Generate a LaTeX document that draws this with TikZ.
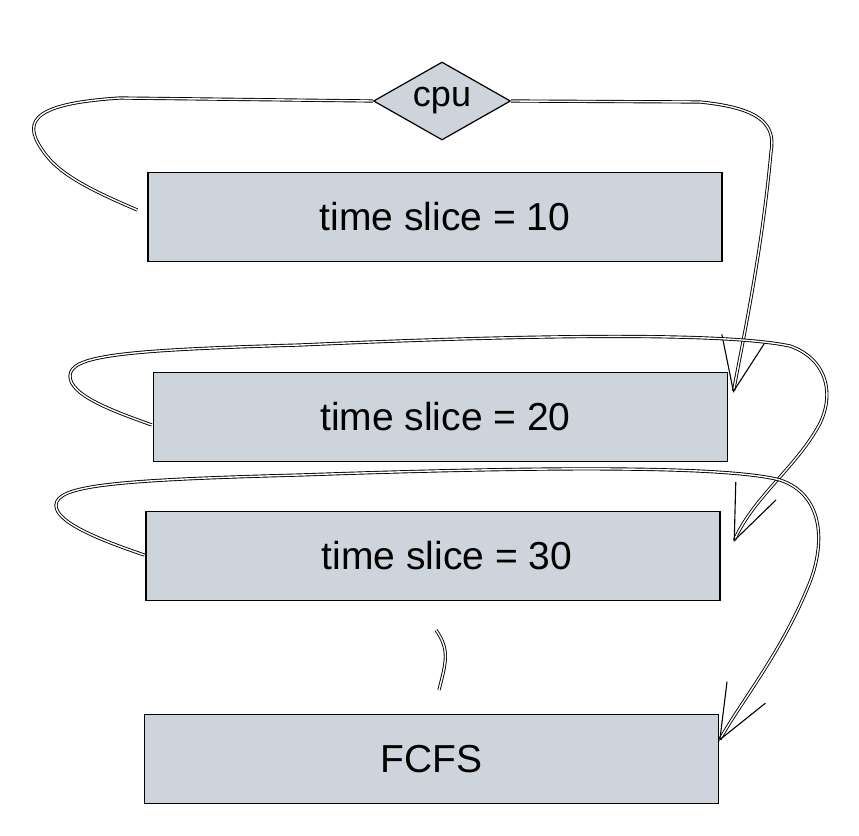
\documentclass[tikz,border=0pt]{standalone}
\usepackage{fontspec}
\setmainfont{Liberation Sans}
\usetikzlibrary{shapes.geometric,arrows.meta,calc}
\definecolor{boxfill}{RGB}{206,212,220}
\tikzset{
  box/.style={draw=black, line width=1.3pt, fill=boxfill, minimum width=574pt, minimum height=89pt, inner sep=0pt, font=\fontsize{39}{44}\selectfont},
  dia/.style={diamond, draw=black, line width=1.2pt, fill=boxfill, minimum width=137pt, minimum height=78pt, inner sep=0pt, aspect=1.75, font=\fontsize{36}{40}\selectfont},
  sketch/.style={draw=black, double=white, line width=0.9pt, double distance=1.4pt},
  tip/.style={-{Straight Barb[length=54pt, width=44pt, line width=1.1pt]}}
}
\begin{document}
\begin{tikzpicture}[x=1pt, y=-1pt]
\useasboundingbox (0,0) rectangle (859,835);
\node[dia] (cpu) at (442,101) {cpu};
\node[box] (b1) at (435,217) {\hspace*{20pt}time slice = 10};
\node[box] (b2) at (440.5,417) {\hspace*{10pt}time slice = 20};
\node[box] (b3) at (433,556) {\hspace*{28pt}time slice = 30};
\node[box] (b4) at (431.5,759) {FCFS};
% loop from box 1 through cpu to box 2
\draw[sketch] ($(b1.west)+(-10,-7)$) .. controls (95,192) and (62,176) .. (46,155)
   .. controls (22,124) and (26,104) .. (120,98) -- (cpu.west);
\draw[sketch, tip] (cpu.east) -- (700,102) .. controls (760,108) and (776,124) .. (771,152)
   .. controls (762,250) and (745,330) .. ($(b2.north east)+(5,21)$);
% loop from box 2 to box 3
\draw[sketch, tip] ($(b2.west)+(-1,8)$) .. controls (110,410) and (70,395) .. (70,376)
   .. controls (70,356) and (120,350) .. (300,345)
   .. controls (500,336) and (720,331) .. (790,346)
   .. controls (830,360) and (836,400) .. (815,432)
   .. controls (792,470) and (752,500) .. ($(b3.north east)+(13,31)$);
% loop from box 3 to FCFS
\draw[sketch, tip] ($(b3.west)+(-1,-1)$) .. controls (100,540) and (55,522) .. (56,505)
   .. controls (57,486) and (110,480) .. (300,475)
   .. controls (500,468) and (720,464) .. (780,480)
   .. controls (822,494) and (826,540) .. (810,582)
   .. controls (782,652) and (742,700) .. ($(b4.north east)+(0,27)$);
% small stroke between box 3 and FCFS
\coordinate (s1) at (436,630);
\coordinate (s2) at (439,690);
\draw[sketch] (s1) .. controls (450,650) and (446,662) .. (s2);
\end{tikzpicture}
\end{document}
